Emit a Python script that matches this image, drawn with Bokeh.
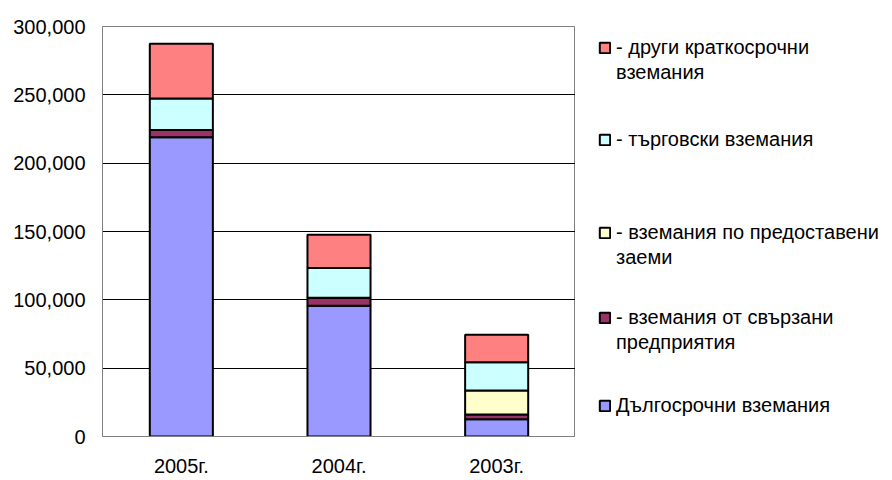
from bokeh.plotting import figure
from bokeh.layouts import row
from bokeh.models import (FactorRange, Range1d, Legend, LegendItem, NumeralTickFormatter,
                          FixedTicker)
from bokeh.embed import file_html
from bokeh.resources import INLINE

years = ["2005г.", "2004г.", "2003г."]
long_term = [219000, 95600, 12700]
related = [5300, 6000, 3400]
loans = [0, 0, 17600]
trade = [23000, 21700, 20700]
other = [40000, 24300, 20000]

series_keys = ["long_term", "related", "loans", "trade", "other"]
series_labels = [
    ["Дългосрочни вземания"],
    ["- вземания от свързани", "предприятия"],
    ["- вземания по предоставени", "заеми"],
    ["- търговски вземания"],
    ["- други краткосрочни", "вземания"],
]
colors = ["#9999FF", "#993366", "#FFFFCC", "#CCFFFF", "#FF8080"]
y_ticks = [0, 50000, 100000, 150000, 200000, 250000, 300000]

data = dict(years=years, long_term=long_term, related=related, loans=loans,
            trade=trade, other=other)

FONT = "Liberation Sans"
FS = "20px"

p = figure(x_range=FactorRange(*years, range_padding=0), y_range=Range1d(0, 300000),
           frame_width=473, frame_height=410, output_backend="svg", toolbar_location=None,
           min_border_left=102, min_border_top=26, min_border_bottom=36,
           min_border_right=0)

renderers = p.vbar_stack(series_keys, x="years", width=0.4, source=data,
                         fill_color=colors, line_color="black", line_width=2)

p.yaxis.ticker = FixedTicker(ticks=y_ticks)
p.yaxis.formatter = NumeralTickFormatter(format="0,0")
for ax in (p.xaxis, p.yaxis):
    ax.major_tick_line_color = None
    ax.minor_tick_line_color = None
    ax.axis_line_color = "#808080"
    ax.major_label_text_font = FONT
    ax.major_label_text_font_size = FS
    ax.major_label_text_color = "black"
p.yaxis.major_label_standoff = 11
p.xaxis.major_label_standoff = 12

p.xgrid.grid_line_color = None
p.ygrid.grid_line_color = "black"
p.ygrid.grid_line_width = 1
p.outline_line_color = "#808080"
p.outline_line_width = 1

# legend panel: a separate, axis-less figure to the right of the chart
q = figure(width=315, height=472, x_range=Range1d(0, 1), y_range=Range1d(0, 1),
           x_axis_type=None, y_axis_type=None, output_backend="svg",
           toolbar_location=None, min_border=0, outline_line_color=None)
q.grid.visible = False

# zero-size proxies that only carry the swatch styles for the legend
swatches = [q.vbar(x=[0.99], bottom=[0.01], top=[0.01], width=0, fill_color=c,
                   line_color="black", line_width=2) for c in colors]
blank = q.vbar(x=[0.99], bottom=[0.01], top=[0.01], width=0, fill_alpha=0, line_alpha=0)

# screen offsets (from the legend panel frame's bottom-left) of each legend block
legend_y = {4: 344, 3: 277, 2: 159, 1: 74, 0: 11}
for idx in [4, 3, 2, 1, 0]:
    lines = series_labels[idx]
    items = [LegendItem(label=lines[0], renderers=[swatches[idx]])]
    for extra in lines[1:]:
        items.append(LegendItem(label=extra, renderers=[blank]))
    lg = Legend(items=items, location=(23, legend_y[idx]), border_line_color=None,
                background_fill_alpha=0, label_text_font=FONT,
                label_text_font_size=FS, label_text_color="black",
                glyph_width=13, glyph_height=13,
                label_height=25, spacing=0, padding=0, margin=0,
                label_standoff=5)
    q.add_layout(lg, "center")

layout = row(p, q)
open("out.html", "w").write(file_html(layout, INLINE))
